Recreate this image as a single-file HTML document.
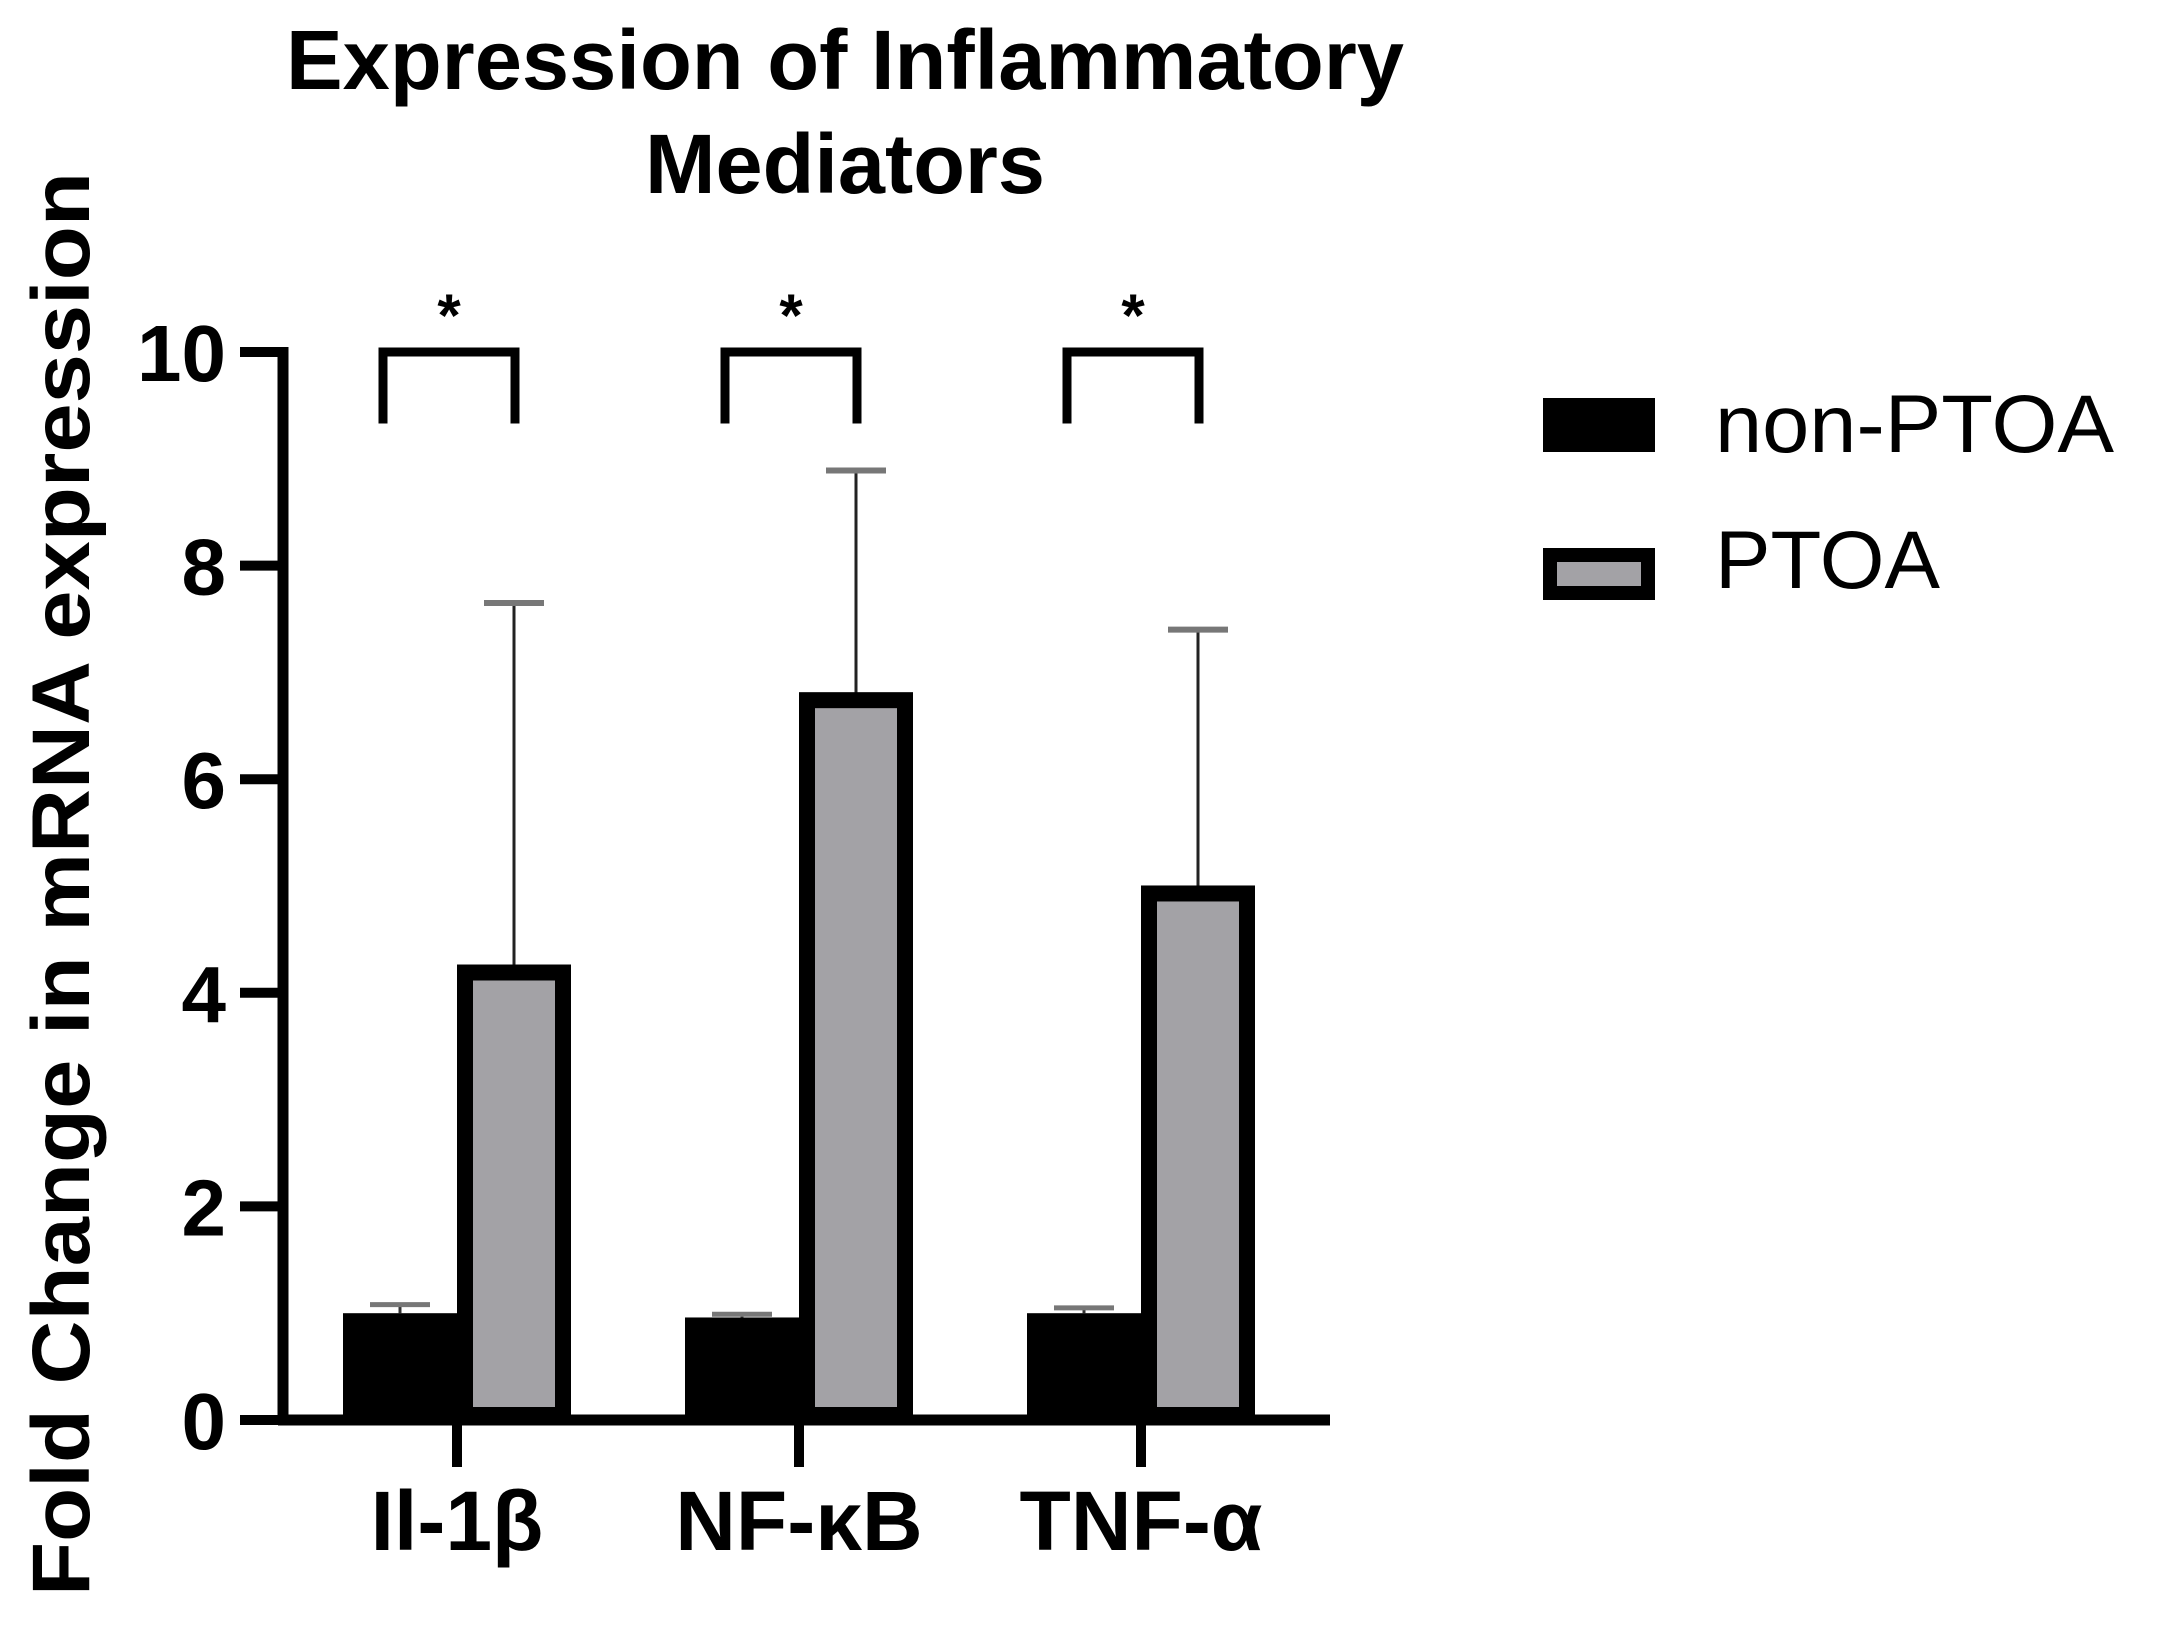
<!DOCTYPE html>
<html><head><meta charset="utf-8"><style>
html,body{margin:0;padding:0;background:#fff;}
svg{display:block;font-family:"Liberation Sans",Arial,sans-serif;}
</style></head><body>
<svg id="chart" width="2157" height="1625" viewBox="0 0 2157 1625" xmlns="http://www.w3.org/2000/svg">
<text x="845" y="89" text-anchor="middle" font-size="84" font-weight="bold" textLength="1118" lengthAdjust="spacingAndGlyphs">Expression of Inflammatory</text>
<text x="845" y="193" text-anchor="middle" font-size="84" font-weight="bold" textLength="400" lengthAdjust="spacingAndGlyphs">Mediators</text>
<text transform="translate(89,884) rotate(-90)" text-anchor="middle" font-size="82" font-weight="bold" textLength="1424" lengthAdjust="spacingAndGlyphs">Fold Change in mRNA expression</text>
<g id="plot"></g>
<g>
  <rect x="1543" y="398" width="112" height="54" fill="#000"/>
  <text x="1715" y="452" font-size="82" textLength="399" lengthAdjust="spacingAndGlyphs">non-PTOA</text>
  <rect x="1550" y="555" width="98" height="38" fill="#a3a2a6" stroke="#000" stroke-width="14"/>
  <text x="1715" y="588" font-size="82" textLength="225" lengthAdjust="spacingAndGlyphs">PTOA</text>
</g>
</svg>
<script>
const categories = ["Il-1\u03b2", "NF-\u03baB", "TNF-\u03b1"];
const nonPtoaValues = [1.0, 0.96, 1.0];
const nonPtoaErrors = [0.08, 0.03, 0.05];
const ptoaValues = [4.19, 6.74, 4.93];
const ptoaErrors = [3.46, 2.15, 2.47];
const yTicks = [0, 2, 4, 6, 8, 10];
const significance = ["*", "*", "*"];

const NS = "http://www.w3.org/2000/svg";
const g = document.getElementById("plot");
const Y0 = 1420, Y10 = 352;
function yScale(v){ return Y0 - (Y0 - Y10) * v / 10; }
function xScale(i){ return 457 + i * 342; }
const BW = 114;
function mk(tag, attrs){ const e = document.createElementNS(NS, tag); for (const k in attrs) e.setAttribute(k, attrs[k]); g.appendChild(e); return e; }

let e = mk("line", {x1:283, y1:yScale(10)-5, x2:283, y2:Y0+5, stroke:"#000", "stroke-width":11});


e = mk("line", {x1:278, y1:Y0, x2:1330, y2:Y0, stroke:"#000", "stroke-width":11});



yTicks.forEach(t => {
  const y = yScale(t);
  let l = mk("line", {x1:240, y1:y, x2:283, y2:y, stroke:"#000", "stroke-width":10});
  
  
  let tx = mk("text", {x:226, y:y+29, "text-anchor":"end", "font-size":80, "font-weight":"bold"});
  tx.textContent = t;
  
  
});

categories.forEach((c, i) => {
  const cx = xScale(i);
  let tk = mk("line", {x1:cx, y1:Y0, x2:cx, y2:1467, stroke:"#000", "stroke-width":10});
  
  
  let lb = mk("text", {x:cx, y:1550, "text-anchor":"middle", "font-size":84, "font-weight":"bold"});
  lb.textContent = c;
  
  

  const bcx = cx - BW/2;
  const by = yScale(nonPtoaValues[i]);
  const bey = yScale(nonPtoaValues[i] + nonPtoaErrors[i]);
  let el = mk("line", {x1:bcx, y1:bey, x2:bcx, y2:by, stroke:"#333", "stroke-width":3});
  
  
  el = mk("line", {x1:bcx-30, y1:bey, x2:bcx+30, y2:bey, stroke:"#777", "stroke-width":5});
  
  
  let b = mk("rect", {x:cx-BW, y:by, width:BW, height:Y0-by, fill:"#000"});
  
  

  const gcx = cx + BW/2;
  const gy = yScale(ptoaValues[i]);
  const gey = yScale(ptoaValues[i] + ptoaErrors[i]);
  el = mk("line", {x1:gcx, y1:gey, x2:gcx, y2:gy, stroke:"#222", "stroke-width":3});
  
  
  el = mk("line", {x1:gcx-30, y1:gey, x2:gcx+30, y2:gey, stroke:"#777", "stroke-width":6});
  
  
  let gb = mk("rect", {x:cx+8, y:gy, width:BW-16, height:Y0-gy-5, fill:"#a3a2a6", stroke:"#000", "stroke-width":16});
  
  

  const top = yScale(10), bot = yScale(9.33);
  const bc = cx - 8;
  let br = mk("polyline", {points:`${bc-66},${bot} ${bc-66},${top} ${bc+66},${top} ${bc+66},${bot}`, fill:"none", stroke:"#000", "stroke-width":9});
  
  
  let st = mk("text", {x:bc, y:336, "text-anchor":"middle", "font-size":60, "font-weight":"bold"});
  st.textContent = significance[i];
  
  
});
</script>
</body></html>
